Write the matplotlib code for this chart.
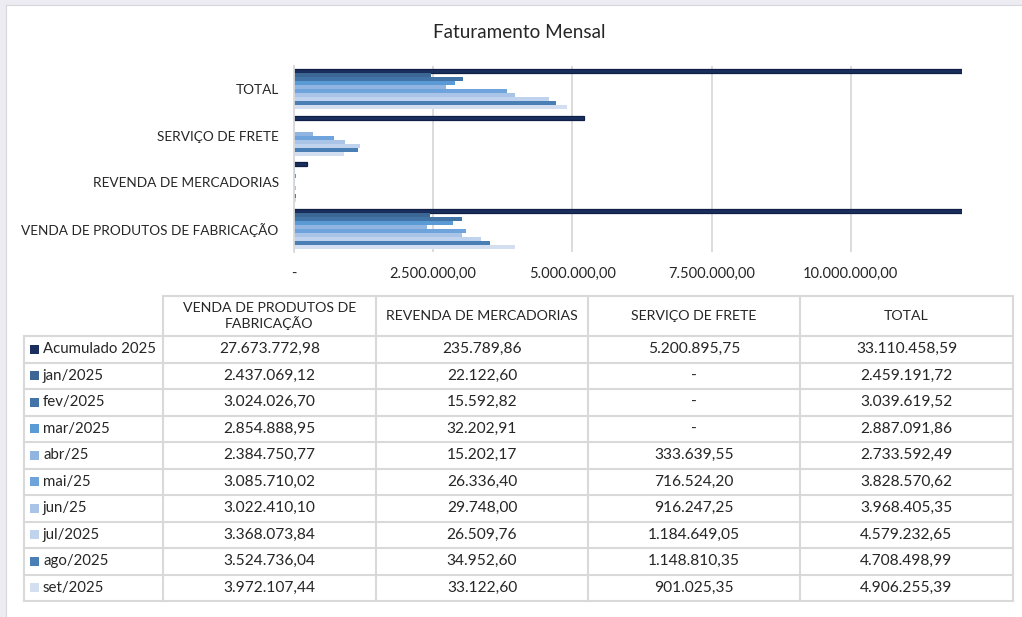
import matplotlib.pyplot as plt
from matplotlib.patches import Rectangle
from matplotlib.ticker import FuncFormatter, MultipleLocator

plt.rcParams['font.family'] = ['Lato', 'DejaVu Sans']

# categorias (ordem da tabela) e series
categorias = ['VENDA DE PRODUTOS DE FABRICAÇÃO', 'REVENDA DE MERCADORIAS',
              'SERVIÇO DE FRETE', 'TOTAL']
cabecalhos = ['VENDA DE PRODUTOS DE\nFABRICAÇÃO', 'REVENDA DE MERCADORIAS',
              'SERVIÇO DE FRETE', 'TOTAL']
series = ['Acumulado 2025', 'jan/2025', 'fev/2025', 'mar/2025', 'abr/25',
          'mai/25', 'jun/25', 'jul/2025', 'ago/2025', 'set/2025']

venda = [27673772.98, 2437069.12, 3024026.70, 2854888.95, 2384750.77,
         3085710.02, 3022410.10, 3368073.84, 3524736.04, 3972107.44]
revenda = [235789.86, 22122.60, 15592.82, 32202.91, 15202.17,
           26336.40, 29748.00, 26509.76, 34952.60, 33122.60]
frete = [5200895.75, 0, 0, 0, 333639.55,
         716524.20, 916247.25, 1184649.05, 1148810.35, 901025.35]
total = [33110458.59, 2459191.72, 3039619.52, 2887091.86, 2733592.49,
         3828570.62, 3968405.35, 4579232.65, 4708498.99, 4906255.39]

cores = ['#1a2f5e', '#3c6794', '#4374a8', '#5b9bd5', '#91b5e0',
         '#6fa3dc', '#a9c4e7', '#c0d3ee', '#4a7fb5', '#d3dff1']

colunas = [venda, revenda, frete, total]


def brl(v):
    # formato contabil do Excel em pt-BR
    if v == 0:
        return '-'
    s = f'{v:,.2f}'
    return s.replace(',', 'X').replace('.', ',').replace('X', '.')


W, H = 1022, 617
fig = plt.figure(figsize=(W / 100, H / 100), dpi=100)

# moldura de fundo (faixa cinza da planilha)
bg = fig.add_axes([0, 0, 1, 1])
bg.set_xlim(0, W)
bg.set_ylim(H, 0)
bg.axis('off')
bg.add_patch(Rectangle((0, 0), W, 5, color='#ececf2', lw=0))
bg.add_patch(Rectangle((0, 0), 6, H, color='#ececf2', lw=0))
bg.plot([6, 6], [5, H], color='#d6d6dc', lw=0.8)
bg.plot([6, W], [5, 5], color='#d6d6dc', lw=0.8)

fig.text(519 / W, 1 - 32 / H, 'Faturamento Mensal', ha='center', va='center',
         fontsize=13.6, color='#262626')

# grafico de barras
ax = fig.add_axes([294 / W, 1 - 252 / H, 668 / W, 186 / H])
n = len(series)
h = 0.86 / n
for i, nome in enumerate(series):
    ys = [c + 0.43 - (i + 0.5) * h for c in range(len(categorias))]
    vals = [col[i] for col in colunas]
    if i == 0:
        # acumulado com contorno escuro, como no Excel
        ax.barh(ys, vals, height=h, color=cores[i], edgecolor='#0f1f45',
                linewidth=0.9)
    else:
        ax.barh(ys, vals, height=h, color=cores[i], linewidth=0)

ax.set_xlim(0, 12000000)
ax.set_ylim(-0.5, 3.5)
ax.xaxis.set_major_locator(MultipleLocator(2500000))
ax.xaxis.set_major_formatter(FuncFormatter(lambda v, p: brl(v)))
ax.set_yticks(range(len(categorias)))
ax.set_yticklabels(categorias)
ax.tick_params(axis='y', length=0, pad=11, labelsize=9.8, labelcolor='#262626')
ax.tick_params(axis='x', length=0, pad=11, labelsize=10.5, labelcolor='#262626')
ax.grid(axis='x', color='#d9d9d9', lw=1.3)
ax.set_axisbelow(True)
for s in ['top', 'right', 'bottom']:
    ax.spines[s].set_visible(False)
ax.spines['left'].set_color('#d9d9d9')
ax.spines['left'].set_linewidth(1.3)

# tabela de dados
tb = fig.add_axes([0, 0, 1, 1])
tb.set_xlim(0, W)
tb.set_ylim(H, 0)
tb.axis('off')
xs = [24, 163, 376, 588, 800, 1013]
y_top, y_head, y_bot = 296, 336, 601
rh = (y_bot - y_head) / n
linha = dict(color='#d9d9d9', lw=1.5)

tb.plot([xs[1], xs[-1]], [y_top, y_top], **linha)
for k in range(n + 1):
    y = y_head + k * rh
    tb.plot([xs[0], xs[-1]], [y, y], **linha)
tb.plot([xs[0], xs[0]], [y_head, y_bot], **linha)
for x in xs[1:]:
    tb.plot([x, x], [y_top, y_bot], **linha)

for j, cab in enumerate(cabecalhos):
    tb.text((xs[j + 1] + xs[j + 2]) / 2, (y_top + y_head) / 2, cab,
            ha='center', va='center', fontsize=10.2, color='#262626',
            linespacing=1.25)

for i, nome in enumerate(series):
    yc = y_head + (i + 0.5) * rh
    tb.add_patch(Rectangle((30, yc - 4.5), 9, 9, color=cores[i], lw=0))
    tb.text(43, yc, nome, ha='left', va='center', fontsize=10.8, color='#262626')
    for j, col in enumerate(colunas):
        tb.text((xs[j + 1] + xs[j + 2]) / 2, yc, brl(col[i]), ha='center',
                va='center', fontsize=11.2, color='#262626')

fig.savefig('out.png', dpi=100)
